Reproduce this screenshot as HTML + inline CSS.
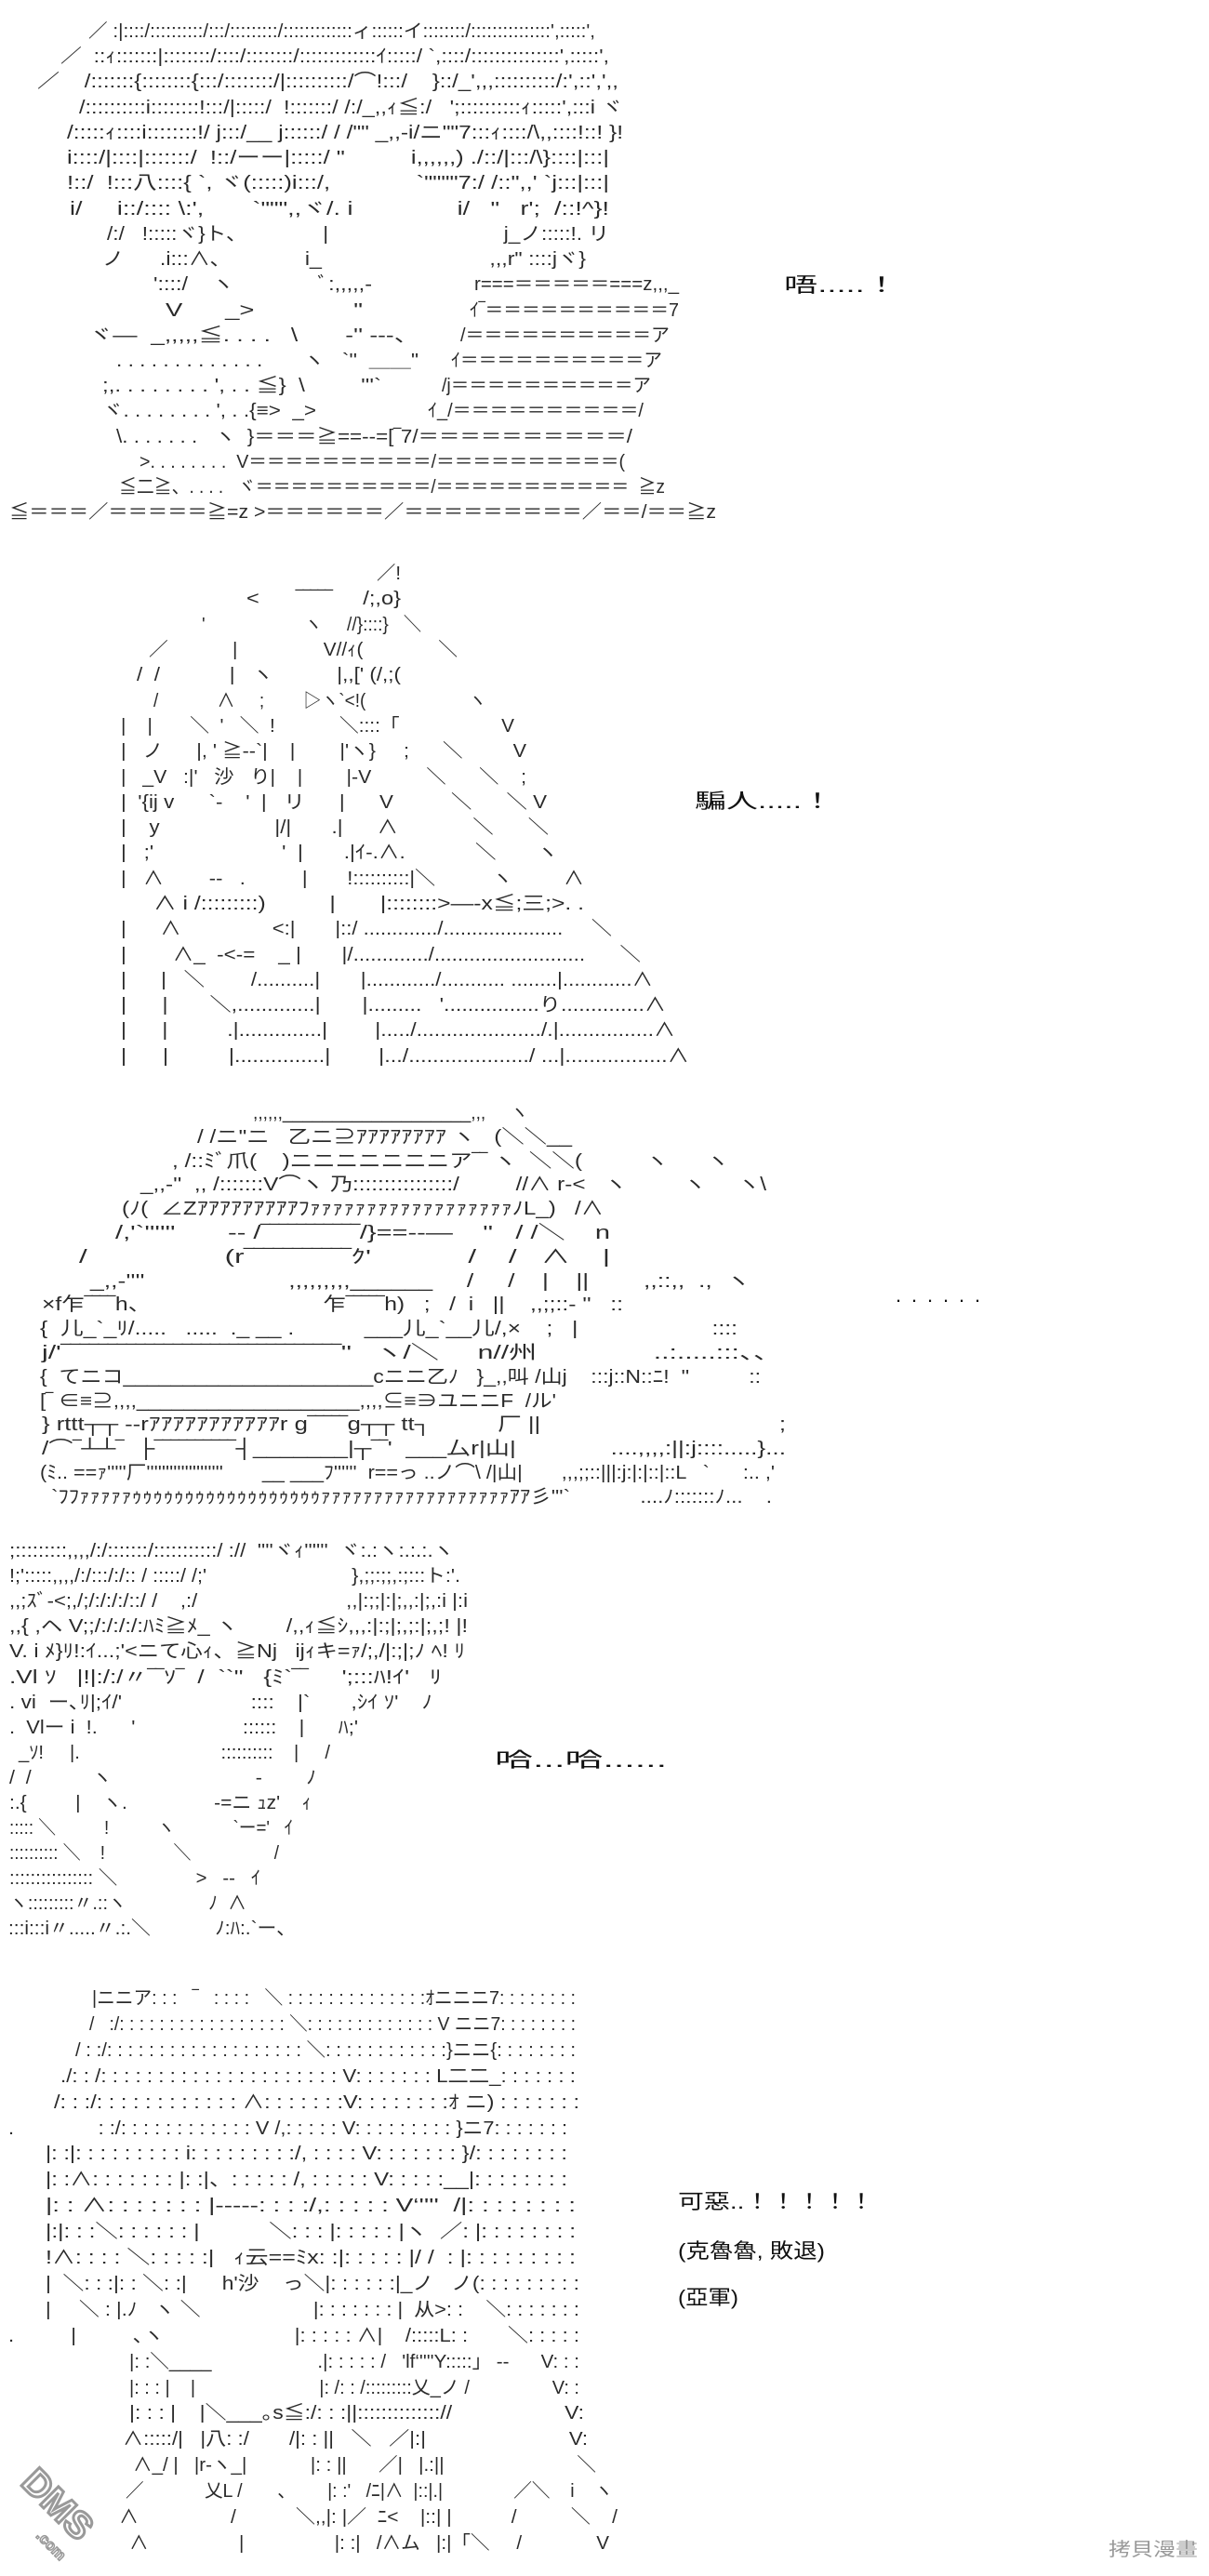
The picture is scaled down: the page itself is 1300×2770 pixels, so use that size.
<!DOCTYPE html>
<html><head><meta charset="utf-8">
<style>
html,body{margin:0;padding:0;background:#fff;}
svg{display:block}
text{font-family:"Liberation Sans","Noto Sans CJK JP",sans-serif;white-space:pre;}
.a{font-size:20px;fill:#2a2a2a;}
.t{font-size:22px;fill:#111;}
</style></head><body>
<svg width="1300" height="2770" viewBox="0 0 1300 2770" xmlns="http://www.w3.org/2000/svg" xml:space="preserve">
<g class="a" lengthAdjust="spacingAndGlyphs">
<!-- Panel 1 -->
<text x="95" y="40" textLength="545" lengthAdjust="spacingAndGlyphs">／ :|::::/::::::::::/:::/:::::::::/:::::::::::::ィ::::::イ::::::::/:::::::::::::::',:::::',</text>
<text x="65" y="67" textLength="590" lengthAdjust="spacingAndGlyphs">／  ::ｨ:::::::|::::::::/::::/::::::::/:::::::::::::ｲ:::::/ `,::::/:::::::::::::::',:::::',</text>
<text x="40" y="94" textLength="625" lengthAdjust="spacingAndGlyphs">／    /:::::::{::::::::{:::/::::::::/|::::::::::/⌒!:::/    }::/_',,,::::::::::/:',::',',,</text>
<text x="85" y="122" textLength="585" lengthAdjust="spacingAndGlyphs">/::::::::::i::::::::!:::/|:::::/  !:::::::/ /:/_,,ｨ≦:/   ';::::::::::ｨ:::::',:::i ヾ</text>
<text x="72" y="149" textLength="598" lengthAdjust="spacingAndGlyphs">/:::::ｨ::::i::::::::!/ j:::/__ j::::::/ / /"" _,,-i/ニ""7:::ｨ::::/\,,::::!::! }!</text>
<text x="72" y="176" textLength="583" lengthAdjust="spacingAndGlyphs">i::::/|::::|:::::::/  !::/ーー|:::::/ "          i,,,,,,) ./::/|:::/\}::::|:::|</text>
<text x="72" y="203" textLength="583" lengthAdjust="spacingAndGlyphs">!::/  !:::八::::{ `, ヾ(:::::)i:::/,             `""""7:/ /::",,' `j:::|:::|</text>
<text x="75" y="231" textLength="580" lengthAdjust="spacingAndGlyphs">i/     i::/:::: \:',       `""",,ヾ/. i               i/   "   r';  /::!^}!</text>
<text x="115" y="258" textLength="540" lengthAdjust="spacingAndGlyphs">/:/   !:::::ヾ}ト、             |                              j_ノ:::::!. リ</text>
<text x="110" y="285" textLength="520" lengthAdjust="spacingAndGlyphs">ノ      .i:::∧､              i_                            ,,,r" ::::jヾ}</text>
<text x="165" y="312" textLength="235" lengthAdjust="spacingAndGlyphs">'::::/    ヽ              ﾞ:,,,,,-</text>
<text x="510" y="312" textLength="220" lengthAdjust="spacingAndGlyphs">r===＝＝＝＝＝===z,,,_</text>
<text x="178" y="340" textLength="212" lengthAdjust="spacingAndGlyphs">V      _>              "</text>
<text x="505" y="340" textLength="225" lengthAdjust="spacingAndGlyphs">ｲ‾＝＝＝＝＝＝＝＝＝＝7</text>
<text x="95" y="367" textLength="355" lengthAdjust="spacingAndGlyphs">ヾ—  _,,,,,≦. . . .   \       -'' -‐-、</text>
<text x="495" y="367" textLength="225" lengthAdjust="spacingAndGlyphs">/＝＝＝＝＝＝＝＝＝＝ア</text>
<text x="125" y="394" textLength="325" lengthAdjust="spacingAndGlyphs">. . . . . . . . . . . . .       ヽ   `''  ＿＿"</text>
<text x="485" y="394" textLength="227" lengthAdjust="spacingAndGlyphs">ｲ＝＝＝＝＝＝＝＝＝＝ア</text>
<text x="110" y="421" textLength="300" lengthAdjust="spacingAndGlyphs">;,. . . . . . . . ', . . ≦}  \         '''`</text>
<text x="475" y="421" textLength="225" lengthAdjust="spacingAndGlyphs">/j＝＝＝＝＝＝＝＝＝＝ア</text>
<text x="110" y="448" textLength="230" lengthAdjust="spacingAndGlyphs">ヾ. . . . . . . . ', . .{≡>  _></text>
<text x="460" y="448" textLength="232" lengthAdjust="spacingAndGlyphs">ｲ_/＝＝＝＝＝＝＝＝＝＝/</text>
<text x="125" y="476" textLength="555" lengthAdjust="spacingAndGlyphs">\. . . . . . .   ヽ  }＝＝＝≧==--=[‾7/＝＝＝＝＝＝＝＝＝＝/</text>
<text x="150" y="503" textLength="522" lengthAdjust="spacingAndGlyphs">>. . . . . . . .  V＝＝＝＝＝＝＝＝＝＝/＝＝＝＝＝＝＝＝＝＝(</text>
<text x="128" y="530" textLength="587" lengthAdjust="spacingAndGlyphs">≦二≧、. . . .   ヾ＝＝＝＝＝＝＝＝＝＝/＝＝＝＝＝＝＝＝＝＝＝  ≧z</text>
<text x="10" y="557" textLength="760" lengthAdjust="spacingAndGlyphs">≦＝＝＝／＝＝＝＝＝≧=z >＝＝＝＝＝＝／＝＝＝＝＝＝＝＝＝／＝＝/＝＝≧z</text>

<!-- Panel 2 -->
<text x="405" y="623" textLength="26" lengthAdjust="spacingAndGlyphs">／!</text>
<text x="265" y="650" textLength="166" lengthAdjust="spacingAndGlyphs">&lt;      ‾‾‾‾‾     /;,o}</text>
<text x="217" y="678" textLength="236" lengthAdjust="spacingAndGlyphs">'                    ヽ     //}::::}   ＼</text>
<text x="160" y="705" textLength="332" lengthAdjust="spacingAndGlyphs">／            |                V//ｨ(              ＼</text>
<text x="147" y="732" textLength="284" lengthAdjust="spacingAndGlyphs">/  /            |   ヽ           |,,[' (/,;(</text>
<text x="165" y="760" textLength="358" lengthAdjust="spacingAndGlyphs">/            ∧     ;        ▷ヽ`&lt;!(                     ヽ</text>
<text x="130" y="787" textLength="423" lengthAdjust="spacingAndGlyphs">|    |       ＼  '   ＼  !            ＼::::「                   V</text>
<text x="130" y="814" textLength="436" lengthAdjust="spacingAndGlyphs">|   ノ      |, ' ≧--`|    |        |'ヽ}     ;      ＼         V</text>
<text x="130" y="842" textLength="436" lengthAdjust="spacingAndGlyphs">|   _V   :|'   沙   り|    |        |-V          ＼      ＼    ;</text>
<text x="130" y="869" textLength="458" lengthAdjust="spacingAndGlyphs">|  '{ij v      `-    '  |   リ      |      V          ＼      ＼ V</text>
<text x="130" y="896" textLength="460" lengthAdjust="spacingAndGlyphs">|    y                    |/|       .|      ∧             ＼      ＼</text>
<text x="130" y="923" textLength="470" lengthAdjust="spacingAndGlyphs">|   ;'                      '  |       .|ｲ-.∧.            ＼       ヽ</text>
<text x="130" y="951" textLength="498" lengthAdjust="spacingAndGlyphs">|   ∧        --   .          |       !::::::::::|＼          ヽ         ∧</text>
<text x="165" y="978" textLength="463" lengthAdjust="spacingAndGlyphs">∧ i /:::::::::)          |       |::::::::>—-x≦;三;>. .</text>
<text x="130" y="1005" textLength="528" lengthAdjust="spacingAndGlyphs">|      ∧                &lt;:|       |::/ ............./.....................     ＼</text>
<text x="130" y="1033" textLength="559" lengthAdjust="spacingAndGlyphs">|        ∧_  -&lt;-=    _ |       |/............./..........................      ＼</text>
<text x="130" y="1060" textLength="572" lengthAdjust="spacingAndGlyphs">|      |   ＼        /..........|       |............/........... ........|............∧</text>
<text x="130" y="1087" textLength="586" lengthAdjust="spacingAndGlyphs">|      |       ＼,.............|       |.........   '................り..............∧</text>
<text x="130" y="1114" textLength="596" lengthAdjust="spacingAndGlyphs">|      |          .|..............|        |...../...................../.|................∧</text>
<text x="130" y="1142" textLength="611" lengthAdjust="spacingAndGlyphs">|      |          |...............|        |.../..................../ ...|.................∧</text>

<!-- Panel 3 -->
<text x="272" y="1203" textLength="296" lengthAdjust="spacingAndGlyphs">,,,,,,___________________,,,     ヽ</text>
<text x="212" y="1229" textLength="403" lengthAdjust="spacingAndGlyphs">/ /ニ"ニ   乙ニ⊇ｱｱｱｱｱｱｱｱ ヽ   (＼＼__</text>
<text x="185" y="1255" textLength="599" lengthAdjust="spacingAndGlyphs">, /::ﾐﾞ爪(    )ニニニニニニニア‾‾ ヽ  ＼＼(          ヽ      ヽ</text>
<text x="151" y="1280" textLength="673" lengthAdjust="spacingAndGlyphs">_,,-''  ,, /:::::::V⌒ヽ 乃::::::::::::::::/         //∧ r-&lt;   ヽ         ヽ     ヽ\</text>
<text x="131" y="1306" textLength="518" lengthAdjust="spacingAndGlyphs">(ﾉ(  ∠ZｱｱｱｱｱｱｱｱｱﾌｧｧｧｧｧｧｧｧｧｧｧｧｧｧｧｧｧｧﾉL_)   /∧</text>
<text x="124" y="1332" textLength="532" lengthAdjust="spacingAndGlyphs">/,'`''''''       -- /‾‾‾‾‾‾‾‾‾‾‾/}==--—    ''   / /＼    n</text>
<text x="85" y="1358" textLength="571" lengthAdjust="spacingAndGlyphs">/                 (r‾‾‾‾‾‾‾‾‾‾‾ｸ'            /    /   ∧    |</text>
<text x="97" y="1384" textLength="710" lengthAdjust="spacingAndGlyphs">_,,-''''                     ,,,,,,,,,______     /     /    |    ||        ,,::,,  .,  ヽ</text>
<text x="45" y="1409" textLength="625" lengthAdjust="spacingAndGlyphs">×f乍‾‾‾‾h、                           乍‾‾‾‾‾h)   ;   /  i   ||    ,,;;::- ''   ::</text>
<text x="43" y="1435" textLength="750" lengthAdjust="spacingAndGlyphs">{  儿_`_ﾘ/.....   .....  ._ __ .           ___儿_`__儿/,×    ;   |                     ::::</text>
<text x="45" y="1461" textLength="795" lengthAdjust="spacingAndGlyphs">j/'‾‾‾‾‾‾‾‾‾‾‾‾‾‾‾‾‾‾‾‾‾‾‾‾‾‾‾‾‾‾''   ヽ/＼     n//州               ..:.....:::、、</text>
<text x="43" y="1487" textLength="775" lengthAdjust="spacingAndGlyphs">{  てニコ_____________________cニニ乙ﾉ   }_,,叫 /山j    :::j::N::ﾆ!  ''          ::</text>
<text x="43" y="1513" textLength="555" lengthAdjust="spacingAndGlyphs">[‾ ∈≡⊇,,,,___________________,,,,⊆≡∋ユニニF  /ル'</text>
<text x="45" y="1538" textLength="800" lengthAdjust="spacingAndGlyphs">} rttt┬┬ --rｱｱｱｱｱｱｱｱｱｱｱr g‾‾‾‾‾g┬┬ tt┐          厂 ||                                    ;</text>
<text x="45" y="1564" textLength="800" lengthAdjust="spacingAndGlyphs">/⌒‾┴┴‾  ├‾‾‾‾‾‾‾‾‾‾┤_______|┬‾‾'  ___厶r|山|              ....,,,,:||:j::::.....}...</text>
<text x="43" y="1590" textLength="790" lengthAdjust="spacingAndGlyphs">(ﾐ.. ==ｧ'''''厂''''''''''''''''''''       __ ___ﾌ''''''  r==っ ..ノ⌒\ /|山|       ,,,;;::|||:j:|:|::|::L   `      :.. ,'</text>
<text x="55" y="1616" textLength="775" lengthAdjust="spacingAndGlyphs">`ﾌﾌｧｧｧｧｧｩｩｩｩｩｩｩｩｩｩｩｩｩｩｩｩｩｩｧｧｧｧｧｧｧｧｧｧｧｧｧｧｧｧｧｧｱｱ彡'''`            ....ﾉ:::::::ﾉ...    .</text>

<!-- Panel 4 -->
<text x="10" y="1674" textLength="478" lengthAdjust="spacingAndGlyphs">;:::::::::,,,,/:/:::::::/:::::::::::/ ://  ''''ヾｨ''''''  ヾ:.:ヽ:.:.:.ヽ</text>
<text x="10" y="1701" textLength="485" lengthAdjust="spacingAndGlyphs">!;':::::,,,,/:/:::/:/:: / :::::/ /;'                          },;;:;;,:;:::ト:'.</text>
<text x="10" y="1728" textLength="493" lengthAdjust="spacingAndGlyphs">,,;ｽﾞ-&lt;;,/;/:/:/:/::/ /    ,:/                          ,,|:;;|:|;,,:|;,:i |:i</text>
<text x="10" y="1755" textLength="493" lengthAdjust="spacingAndGlyphs">,,{ ,ヘ V;;/:/:/:/:ﾊﾐ≧ﾒ_ ヽ        /,,ｨ≦ｼ,,,:|:;|;,;:|;,;! |!</text>
<text x="10" y="1782" textLength="490" lengthAdjust="spacingAndGlyphs">V. i ﾒ}ﾘ!:ｲ...;'&lt;ニて心ｨ、≧Nj   ijｨキ=ｧ/;,/|:;|;ﾉ ﾍ! ﾘ</text>
<text x="10" y="1810" textLength="465" lengthAdjust="spacingAndGlyphs">.Vl ｿ   |!|:/:/〃‾‾ｿ‾  /  ``''   {ﾐ`‾‾     ';:::ﾊ!ｲ'   ﾘ</text>
<text x="10" y="1837" textLength="455" lengthAdjust="spacingAndGlyphs">. vi  ー､ﾘ|;ｲ/'                      ::::    |`       ,ｼｲ ｿ'    ﾉ</text>
<text x="10" y="1864" textLength="375" lengthAdjust="spacingAndGlyphs">.  Vlー i  !.      '                   ::::::    |      ﾊ;'</text>
<text x="20" y="1891" textLength="335" lengthAdjust="spacingAndGlyphs">_ｿ!     |.                           ::::::::::    |     /</text>
<text x="10" y="1918" textLength="330" lengthAdjust="spacingAndGlyphs">/  /           ヽ                          ‐        ﾉ</text>
<text x="10" y="1945" textLength="325" lengthAdjust="spacingAndGlyphs">:.{         |    ヽ.                ‐=ニ ｭz'    ｨ</text>
<text x="10" y="1972" textLength="305" lengthAdjust="spacingAndGlyphs">::::: ＼          !          ヽ            `ー='   ｲ</text>
<text x="10" y="1999" textLength="290" lengthAdjust="spacingAndGlyphs">:::::::::: ＼    !              ＼                 /</text>
<text x="10" y="2026" textLength="270" lengthAdjust="spacingAndGlyphs">:::::::::::::::: ＼               >   --   ｲ</text>
<text x="10" y="2053" textLength="255" lengthAdjust="spacingAndGlyphs">ヽ:::::::::〃.::ヽ                ﾉ  ∧</text>
<text x="9" y="2080" textLength="309" lengthAdjust="spacingAndGlyphs">:::i:::i〃.....〃.:.＼            ﾉ:ﾊ:.`ー、</text>

<!-- Panel 5 -->
<text x="99" y="2155" textLength="520" lengthAdjust="spacingAndGlyphs">|ニニア: : :   ‾   : : : :   ＼ : : : : : : : : : : : : : :ｵニニニ7: : : : : : : :</text>
<text x="96" y="2183" textLength="523" lengthAdjust="spacingAndGlyphs">/   :/: : : : : : : : : : : : : : : : : ＼: : : : : : : : : : : : : V ニニ7: : : : : : : :</text>
<text x="81" y="2211" textLength="538" lengthAdjust="spacingAndGlyphs">/ : :/: : : : : : : : : : : : : : : : : : : ＼: : : : : : : : : : : :}ニニ{: : : : : : : :</text>
<text x="65" y="2239" textLength="554" lengthAdjust="spacingAndGlyphs">./: : /: : : : : : : : : : : : : : : : : : : : : V: : : : : : : L二二_: : : : : : :</text>
<text x="58" y="2267" textLength="565" lengthAdjust="spacingAndGlyphs">/: : :/: : : : : : : : : : : : ∧: : : : : : :V: : : : : : : :ｵ ニ) : : : : : : :</text>
<text x="9" y="2295" textLength="601" lengthAdjust="spacingAndGlyphs">.               : :/: : : : : : : : : : : : V /,: : : : : V: : : : : : : : : }ニ7: : : : : : :</text>
<text x="49" y="2322" textLength="561" lengthAdjust="spacingAndGlyphs">|: :|: : : : : : : : : i: : : : : : : : :/, : : : : V: : : : : : : }/: : : : : : : :</text>
<text x="49" y="2350" textLength="561" lengthAdjust="spacingAndGlyphs">|: :∧: : : : : : : |: :|、: : : : : /, : : : : : V: : : : :__|: : : : : : : :</text>
<text x="49" y="2378" textLength="570" lengthAdjust="spacingAndGlyphs">|: : ∧: : : : : : : |‐‐‐‐‐: : : :/,: : : : : V‘''''  /|: : : : : : : :</text>
<text x="49" y="2406" textLength="570" lengthAdjust="spacingAndGlyphs">|:|: : :＼: : : : : : |           ＼: : : |: : : : : |ヽ  ／: |: : : : : : : :</text>
<text x="49" y="2434" textLength="570" lengthAdjust="spacingAndGlyphs">!∧: : : : ＼: : : : :|   ｨ云==ﾐx: :|: : : : : |/ /  : |: : : : : : : : :</text>
<text x="49" y="2462" textLength="574" lengthAdjust="spacingAndGlyphs">|  ＼: : :|: : ＼: :|      h'沙    っ＼|: : : : : :|_ノ   ノ(: : : : : : : : :</text>
<text x="49" y="2490" textLength="574" lengthAdjust="spacingAndGlyphs">|     ＼ : |.ﾉ   ヽ ＼                    |: : : : : : : |  从>: :    ＼: : : : : : :</text>
<text x="9" y="2518" textLength="614" lengthAdjust="spacingAndGlyphs">.          |          ､ヽ                       |: : : : : ∧|    /:::::L: :       ＼: : : : :</text>
<text x="139" y="2546" textLength="484" lengthAdjust="spacingAndGlyphs">|: :＼____                    .|: : : : : /   'lf‘''''Y:::::」 -‐      V: : :</text>
<text x="139" y="2574" textLength="484" lengthAdjust="spacingAndGlyphs">|: : : |    |                        |: /: : /:::::::::乂_ノ /                V: :</text>
<text x="139" y="2601" textLength="489" lengthAdjust="spacingAndGlyphs">|: : : |    |＼___｡s≦:/: : :||:::::::::::::://                   V:</text>
<text x="132" y="2629" textLength="500" lengthAdjust="spacingAndGlyphs">∧:::::/|   |八: :/       /|: : ||   ＼   ／|:|                         V:</text>
<text x="143" y="2657" textLength="498" lengthAdjust="spacingAndGlyphs">∧_/ |   |r-ヽ_|            |: : ||      ／|   |.:||                         ＼</text>
<text x="135" y="2685" textLength="524" lengthAdjust="spacingAndGlyphs">／            乂L /       ､        |: :'   /ﾆ|∧  |::|.|              ／＼    i    ヽ</text>
<text x="128" y="2713" textLength="536" lengthAdjust="spacingAndGlyphs">∧                 /           ＼,,|: |／  ﾆ&lt;    |::| |           /          ＼    /</text>
<text x="139" y="2741" textLength="516" lengthAdjust="spacingAndGlyphs">∧                 |                 |: :|   /∧ム   |:|「＼     /              V</text>
</g>

<!-- Right-side speech text -->
<g class="t">
<text x="843" y="314" textLength="123" lengthAdjust="spacingAndGlyphs">唔.....！</text>
<text x="747" y="869" textLength="149" lengthAdjust="spacingAndGlyphs">騙人.....！</text>
<text x="963" y="1400">.</text><text x="980" y="1400">.</text><text x="997" y="1400">.</text><text x="1014" y="1400">.</text><text x="1031" y="1400">.</text><text x="1048" y="1400">.</text>
<text x="532" y="1900" textLength="185" lengthAdjust="spacingAndGlyphs">哈...哈......</text>
<text x="729" y="2375" textLength="211" lengthAdjust="spacingAndGlyphs">可惡..！！！！！</text>
<text x="729" y="2428" textLength="158" lengthAdjust="spacingAndGlyphs">(克魯魯, 敗退)</text>
<text x="729" y="2478" textLength="65" lengthAdjust="spacingAndGlyphs">(亞軍)</text>
</g>

<!-- Watermarks -->
<g transform="translate(72,2705) rotate(45)">
<text x="-60" y="12" style="font-family:'Liberation Sans',sans-serif;font-size:40px;font-weight:bold;fill:#fff;stroke:#999;stroke-width:3">DMS</text>
<text x="-8" y="40" style="font-family:'Liberation Sans',sans-serif;font-size:16px;font-weight:bold;fill:#fff;stroke:#999;stroke-width:1.5">.com</text>
</g>
<text x="1192" y="2748" style="font-family:'Liberation Sans','Noto Sans CJK TC',sans-serif;font-size:20px;fill:#999" textLength="96" lengthAdjust="spacingAndGlyphs">拷貝漫畫</text>
</svg>
</body></html>
